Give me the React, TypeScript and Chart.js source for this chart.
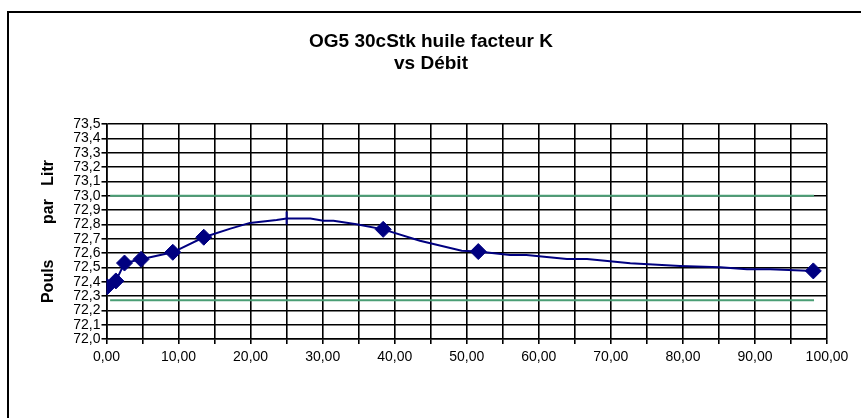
import React, { useEffect, useRef } from 'react';
import { Chart, registerables } from 'chart.js';

Chart.register(...registerables);

// ---- Data ----
const titleLines = ['OG5 30cStk huile facteur K', 'vs Débit'];
const yAxisTitle = 'Pouls        par   Litr';

// measured points (diamonds)
const markerX = [0.1, 1.3, 2.5, 4.8, 9.2, 13.5, 38.4, 51.6, 98.1];
const markerY = [72.365, 72.405, 72.53, 72.556, 72.605, 72.71, 72.765, 72.61, 72.475];

// smoothed blue curve
const curveX = [0.1, 1.3, 2.5, 4.8, 9.2, 13.5, 17.2, 19.9, 23.6, 25.0, 28.3, 30.1, 31.5, 34.7, 38.4, 43.5, 49.3, 51.6, 56.0, 58.3, 63.9, 66.7, 72.7, 79.6, 85.2, 88.9, 92.1, 98.1];
const curveY = [72.365, 72.405, 72.53, 72.556, 72.605, 72.71, 72.77, 72.81, 72.83, 72.84, 72.84, 72.825, 72.825, 72.8, 72.765, 72.686, 72.616, 72.61, 72.586, 72.586, 72.558, 72.558, 72.528, 72.51, 72.5, 72.486, 72.486, 72.475];

// peak tick
const peakX = [25.0];
const peakY = [72.845];

// green limit lines
const limitX = [0.5, 98.2];
const upperLimitY = [73.0, 73.0];
const lowerLimitY = [72.27, 72.27];

// axes
const xMin = 0;
const xMax = 100;
const xGridStep = 5;
const xLabelStep = 10;
const yMin = 72.0;
const yMax = 73.5;
const yStep = 0.1;

const NAVY = '#000080';
const GREEN = '#4a9e75';
const FONT = "'Liberation Sans', Arial, sans-serif";

const toPts = (xs: number[], ys: number[]) => xs.map((x, i) => ({ x, y: ys[i] }));

const decorPlugin = {
  id: 'decor',
  beforeDraw(chart: any) {
    const ctx = chart.ctx;
    ctx.save();
    ctx.fillStyle = '#ffffff';
    ctx.fillRect(0, 0, chart.width, chart.height);
    ctx.fillStyle = '#000000';
    ctx.fillRect(7, 11, chart.width - 7, 2);
    ctx.fillRect(7, 11, 2, chart.height - 11);
    ctx.restore();
  },
  afterDraw(chart: any) {
    const ctx = chart.ctx;
    ctx.save();
    ctx.fillStyle = '#000000';
    ctx.font = `bold 19px ${FONT}`;
    ctx.textAlign = 'center';
    ctx.textBaseline = 'middle';
    ctx.fillText(titleLines[0], 431, 42);
    ctx.fillText(titleLines[1], 431, 64);
    ctx.restore();
  },
};

export default function App() {
  const ref = useRef<HTMLCanvasElement>(null);

  useEffect(() => {
    if (!ref.current) return;
    const chart = new Chart(ref.current, {
      type: 'scatter',
      data: {
        datasets: [
          {
            data: toPts(limitX, upperLimitY),
            showLine: true,
            borderColor: GREEN,
            borderWidth: 2,
            pointRadius: 0,
          },
          {
            data: toPts(limitX, lowerLimitY),
            showLine: true,
            borderColor: GREEN,
            borderWidth: 2,
            pointRadius: 0,
          },
          {
            data: toPts(curveX, curveY),
            showLine: true,
            borderColor: NAVY,
            borderWidth: 2,
            pointRadius: 0,
          },
          {
            data: toPts(peakX, peakY),
            showLine: false,
            pointStyle: 'line',
            rotation: 90,
            pointRadius: 6.5,
            borderColor: NAVY,
            borderWidth: 2,
          },
          {
            data: toPts(markerX, markerY),
            showLine: false,
            pointStyle: 'rectRot',
            pointRadius: 8,
            backgroundColor: NAVY,
            borderColor: NAVY,
            borderWidth: 1,
          },
        ],
      },
      options: {
        responsive: false,
        animation: false,
        devicePixelRatio: 1,
        layout: { padding: { left: 7, right: 34, top: 124, bottom: 10 } },
        plugins: {
          legend: { display: false },
          title: { display: false },
          tooltip: { enabled: false },
        },
        scales: {
          x: {
            type: 'linear',
            min: xMin,
            max: xMax,
            afterFit: (s: any) => { s.height = 69; },
            grid: { color: '#000000', lineWidth: 1.6, tickLength: 5, drawTicks: true },
            border: { color: '#000000', width: 1.6 },
            ticks: {
              stepSize: xGridStep,
              autoSkip: false,
              maxRotation: 0,
              padding: 5,
              color: '#000000',
              font: { family: FONT, size: 14 },
              callback: (v: any) => {
                const n = Number(v);
                if (Math.abs(n / xLabelStep - Math.round(n / xLabelStep)) > 1e-6) return '';
                return n.toFixed(2).replace('.', ',');
              },
            },
          },
          y: {
            type: 'linear',
            min: yMin,
            max: yMax,
            afterFit: (s: any) => { s.width = 99.5; },
            grid: { color: '#000000', lineWidth: 1.6, tickLength: 5, drawTicks: true },
            border: { color: '#000000', width: 1.6 },
            title: {
              display: true,
              text: yAxisTitle,
              color: '#000000',
              font: { family: FONT, size: 16, weight: 'bold' },
              padding: { top: 32, bottom: 0 },
            },
            ticks: {
              stepSize: yStep,
              autoSkip: false,
              padding: 1,
              color: '#000000',
              font: { family: FONT, size: 14 },
              callback: (v: any) => Number(v).toFixed(1).replace('.', ','),
            },
          },
        },
      },
      plugins: [decorPlugin],
    } as any);
    return () => chart.destroy();
  }, []);

  return (
    <div style={{ position: 'absolute', left: 0, top: 0, width: 861, height: 418, background: '#fff' }}>
      <canvas ref={ref} width={861} height={418} style={{ display: 'block', width: 861, height: 418 }} />
    </div>
  );
}
